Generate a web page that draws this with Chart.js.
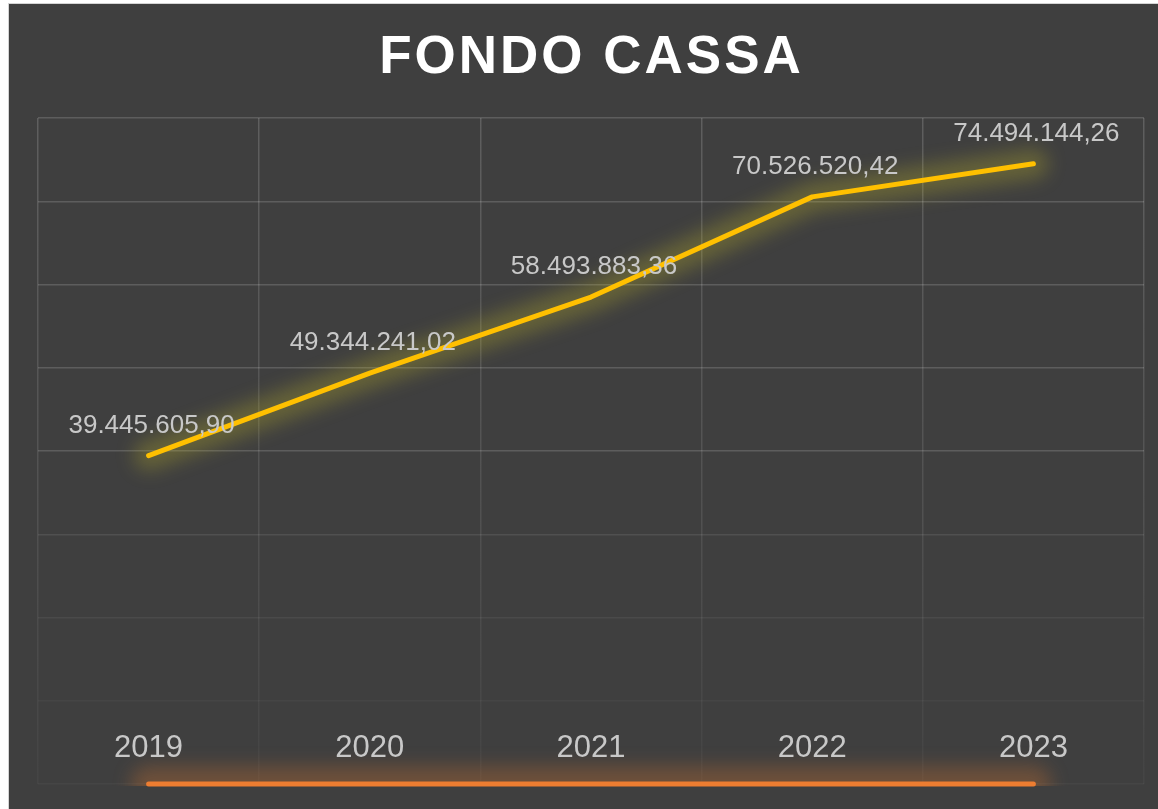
<!DOCTYPE html>
<html lang="it">
<head>
<meta charset="utf-8">
<title>Fondo Cassa</title>
<script src="https://cdn.jsdelivr.net/npm/chart.js@4/dist/chart.umd.min.js"></script>
<style>
  html, body { margin: 0; padding: 0; background: #ffffff; overflow: hidden; }
  body { width: 1158px; height: 809px; position: relative; font-family: "Liberation Sans", Arial, sans-serif; }
  .panel {
    position: absolute; left: 8px; top: 3px; width: 1200px; height: 900px;
    background: #3f3f3f; border: 1px solid #d4d4d4;
  }
  .title {
    position: absolute; left: 0; top: 25px; width: 1183px; text-align: center;
    color: #ffffff; font-weight: bold; font-size: 53px; letter-spacing: 3px; line-height: 60px;
  }
  #chart { position: absolute; left: 0; top: 0; }
</style>
</head>
<body>
<div class="panel"></div>
<div class="title">FONDO CASSA</div>
<canvas id="chart" width="1158" height="809"></canvas>
<script>
/* ---- data ---- */
var anni = ['2019', '2020', '2021', '2022', '2023'];
var fondoCassa = [39445605.90, 49344241.02, 58493883.36, 70526520.42, 74494144.26];
var serieBase = [0, 0, 0, 0, 0];
var yMin = 0;
var yMax = 80000000;
var yStep = 10000000;

(function () {
  'use strict';

  function formatIt(v) {
    return v.toLocaleString('it-IT', { minimumFractionDigits: 2, maximumFractionDigits: 2 });
  }

  /* soft glow: a wide blurred stroke along the dataset's own points */
  var glowPlugin = {
    id: 'glow',
    beforeDatasetDraw: function (chart, args) {
      var ds = chart.data.datasets[args.index];
      var pts = args.meta.data;
      var area = chart.chartArea;
      var ctx = chart.ctx;
      if (!ds.glowColor || !pts.length) return;

      ctx.save();
      if (ds.glowClipBottom) {
        ctx.beginPath();
        ctx.rect(0, 0, chart.width, area.bottom + 2);
        ctx.clip();
      }
      ctx.filter = 'blur(9px)';
      ctx.strokeStyle = ds.glowColor;
      ctx.lineWidth = ds.glowWidth || 30;
      ctx.lineCap = 'round';
      ctx.lineJoin = 'round';
      ctx.beginPath();
      pts.forEach(function (p, i) {
        if (i === 0) ctx.moveTo(p.x, p.y);
        else ctx.lineTo(p.x, p.y);
      });
      ctx.stroke();
      ctx.restore();
    }
  };

  /* value labels above points + category labels inside the plot */
  var labelsPlugin = {
    id: 'labelsInside',
    afterDatasetsDraw: function (chart) {
      var ctx = chart.ctx;
      var xs = chart.scales.x;
      var area = chart.chartArea;
      var meta = chart.getDatasetMeta(0);

      ctx.save();
      ctx.fillStyle = '#c8c8c8';
      ctx.textAlign = 'center';
      ctx.textBaseline = 'alphabetic';
      ctx.font = '26px "Liberation Sans", Arial, sans-serif';
      meta.data.forEach(function (pt, i) {
        ctx.fillText(formatIt(fondoCassa[i]), pt.x + 3, pt.y - 23);
      });

      ctx.font = '31px "Liberation Sans", Arial, sans-serif';
      ctx.textBaseline = 'middle';
      anni.forEach(function (a, i) {
        ctx.fillText(a, xs.getPixelForValue(i), area.bottom - 36);
      });
      ctx.restore();
    }
  };

  function vGridColor(c) {
    var area = c.chart.chartArea;
    if (!area) return 'rgba(255,255,255,0.12)';
    var g = c.chart.ctx.createLinearGradient(0, area.top, 0, area.bottom);
    g.addColorStop(0, 'rgba(255,255,255,0.17)');
    g.addColorStop(0.55, 'rgba(255,255,255,0.10)');
    g.addColorStop(1, 'rgba(255,255,255,0.03)');
    return g;
  }

  function hGridColor(c) {
    var v = c.tick ? c.tick.value : 0;
    if (v >= 40000000) return 'rgba(255,255,255,0.16)';
    if (v >= 30000000) return 'rgba(255,255,255,0.09)';
    if (v >= 20000000) return 'rgba(255,255,255,0.06)';
    return 'rgba(255,255,255,0.035)';
  }

  new Chart(document.getElementById('chart'), {
    type: 'line',
    data: {
      labels: anni,
      datasets: [
        {
          label: 'Fondo cassa',
          data: fondoCassa,
          borderColor: '#ffc000',
          borderWidth: 5,
          borderCapStyle: 'round',
          borderJoinStyle: 'round',
          pointRadius: 0,
          tension: 0,
          clip: false,
          glowColor: 'rgba(200, 190, 40, 0.28)',
          glowWidth: 30
        },
        {
          label: 'Base',
          data: serieBase,
          borderColor: '#ed7d31',
          borderWidth: 5,
          borderCapStyle: 'round',
          pointRadius: 0,
          clip: false,
          glowColor: 'rgba(220, 120, 45, 0.3)',
          glowWidth: 36,
          glowClipBottom: true
        }
      ]
    },
    options: {
      responsive: false,
      animation: false,
      layout: { padding: { left: 38, top: 118, right: 14, bottom: 25 } },
      plugins: {
        legend: { display: false },
        tooltip: { enabled: false },
        title: { display: false }
      },
      scales: {
        x: {
          offset: true,
          ticks: { display: false },
          border: { display: false },
          grid: { offset: true, drawTicks: false, color: vGridColor, lineWidth: 1.5 }
        },
        y: {
          min: yMin,
          max: yMax,
          ticks: { display: false, stepSize: yStep },
          border: { display: false },
          grid: { drawTicks: false, color: hGridColor, lineWidth: 1.5 }
        }
      }
    },
    plugins: [glowPlugin, labelsPlugin]
  });
}());
</script>
</body>
</html>
